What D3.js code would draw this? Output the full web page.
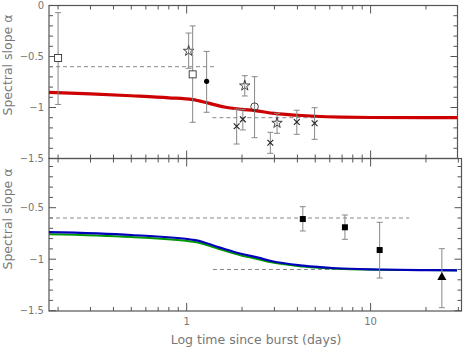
<!doctype html>
<html lang="en">
<head>
    <meta charset="utf-8">
    <title>spectral slope vs time</title>
    <script src="https://cdn.jsdelivr.net/npm/d3@7"></script>
    <style>
        body { margin: 0; background: #fff; }
        text { font-family: "DejaVu Sans", sans-serif; fill: #777; }
    </style>
</head>
<body>
    <svg></svg>
    <script>
        var width = 463;
        var height = 349;

        // top panel data
        var topT   = [0.2, 1.025, 1.078, 1.284, 1.87, 2.02, 2.07, 2.34, 2.85, 3.1, 3.97, 4.96];
        var topA   = [-0.515, -0.446, -0.675, -0.743, -1.184, -1.116, -0.786, -0.992, -1.345, -1.152, -1.142, -1.155];
        var topHi  = [-0.07, -0.27, -0.2, -0.45, -1.015, -1.018, -0.688, -0.698, -1.243, -1.057, -1.027, -1.002];
        var topLo  = [-0.97, -0.616, -1.145, -1.047, -1.358, -1.22, -0.887, -1.296, -1.449, -1.253, -1.263, -1.312];
        var topSym = ["square", "star", "square", "dot", "cross", "cross", "star", "circle", "cross", "star", "cross", "cross"];

        // bottom panel data
        var botT   = [4.28, 7.25, 11.2, 24.4];
        var botA   = [-0.61, -0.69, -0.911, -1.176];
        var botHi  = [-0.49, -0.571, -0.642, -0.898];
        var botLo  = [-0.726, -0.807, -1.183, -1.471];
        var botSym = ["fsquare", "fsquare", "fsquare", "triangle"];

        // model curves
        var redT = [0.1785, 0.3, 0.5, 0.8, 1.08, 1.3, 1.6, 2.0, 2.34, 3.0, 4.0, 5.0, 7.0, 10, 20, 29.5];
        var redA = [-0.851, -0.866, -0.885, -0.905, -0.923, -0.955, -0.995, -1.018, -1.03, -1.058, -1.076, -1.086, -1.094, -1.098, -1.1, -1.1];
        var blueT = [0.1785, 0.5, 1.11, 1.5, 2.0, 2.45, 2.84, 4.3, 6.5, 11, 20, 29.5];
        var blueA = [-0.738, -0.765, -0.814, -0.885, -0.95, -0.985, -1.015, -1.063, -1.088, -1.1, -1.106, -1.108];
        var greenA = [-0.757, -0.784, -0.833, -0.902, -0.966, -1.0, -1.028, -1.071, -1.093, -1.102, -1.106, -1.108];

        // dashed reference levels [t0, t1, alpha]
        var topDash = [[0.1785, 1.41, -0.6], [1.38, 5.1, -1.1]];
        var botDash = [[0.1785, 16.2, -0.6], [1.39, 10, -1.1]];

        var xTicks = [1, 10];
        var yTicks = [0, -0.5, -1, -1.5];

        var left = 49, rightTop = 457.5, rightBot = 461.5;
        var xScale = d3.scaleLog().domain([0.1785, 31.2]).range([left, rightBot]);
        var yTop = d3.scaleLinear().domain([-1.5, 0]).range([158.5, 5.5]);
        var yBot = d3.scaleLinear().domain([-1.5, 0]).range([310.7, 156.2]);

        var svg = d3.select('svg').attr('width', width).attr('height', height);

        var minorX = [];
        [0.1, 1, 10].forEach(function (d) {
            for (var k = 1; k < 10; k++) {
                var v = d * k;
                if (v >= 0.2 && v <= 30) minorX.push(v);
            }
        });
        var minorY = d3.range(0, 16).map(function (i) { return -i / 10; });

        function panel(y, top, bottom, right) {
            var g = svg.append('g');
            g.append('rect')
                .attr('x', left).attr('y', top)
                .attr('width', right - left).attr('height', bottom - top)
                .attr('fill', 'none').attr('stroke', '#555').attr('stroke-width', 1.2);
            var tk = g.append('g').attr('stroke', '#555').attr('stroke-width', 1);
            minorX.forEach(function (t) {
                var px = xScale(t);
                if (px >= right) return;
                var len = (t === 1 || t === 10) ? 8 : 4;
                tk.append('line').attr('x1', px).attr('x2', px).attr('y1', bottom).attr('y2', bottom - len);
                tk.append('line').attr('x1', px).attr('x2', px).attr('y1', top).attr('y2', top + len);
            });
            minorY.forEach(function (v) {
                var py = y(v);
                if (py < top - 0.5 || py > bottom + 0.5) return;
                var len = (Math.abs(v * 2 - Math.round(v * 2)) < 1e-6) ? 7 : 4;
                tk.append('line').attr('x1', left).attr('x2', left + len).attr('y1', py).attr('y2', py);
                tk.append('line').attr('x1', right).attr('x2', right - len).attr('y1', py).attr('y2', py);
            });
            g.selectAll('text.yl')
                .data(yTicks.filter(function (v) { return y(v) >= top - 1; }))
                .enter().append('text')
                .attr('x', left - 5)
                .attr('y', function (v) { return y(v) + 3.5; })
                .attr('text-anchor', 'end')
                .attr('font-size', '10px')
                .text(function (v) { return v === 0 ? '0' : d3.format('.1~f')(v).replace('-', '\u2212'); });
        }

        panel(yTop, 5.5, 158.5, rightTop);
        panel(yBot, 158.5, 311, rightBot);

        svg.selectAll('text.xl')
            .data(xTicks)
            .enter().append('text')
            .attr('x', function (t) { return xScale(t); })
            .attr('y', 325)
            .attr('text-anchor', 'middle')
            .attr('font-size', '10px')
            .text(function (t) { return t; });

        svg.append('text')
            .attr('transform', 'translate(12,65) rotate(-90)')
            .attr('text-anchor', 'middle').attr('font-size', '12.5px')
            .text('Spectral slope \u03b1');
        svg.append('text')
            .attr('transform', 'translate(12,219) rotate(-90)')
            .attr('text-anchor', 'middle').attr('font-size', '12.5px')
            .text('Spectral slope \u03b1');
        svg.append('text')
            .attr('x', 256).attr('y', 344)
            .attr('text-anchor', 'middle').attr('font-size', '12.5px')
            .text('Log time since burst (days)');

        function dashes(list, y) {
            svg.selectAll(null).data(list).enter().append('line')
                .attr('x1', function (d) { return xScale(d[0]); })
                .attr('x2', function (d) { return xScale(d[1]); })
                .attr('y1', function (d) { return y(d[2]); })
                .attr('y2', function (d) { return y(d[2]); })
                .attr('stroke', '#888').attr('stroke-width', 1)
                .attr('stroke-dasharray', '4,3');
        }
        dashes(topDash, yTop);
        dashes(botDash, yBot);

        function curve(ts, as, y, color, w) {
            var line = d3.line()
                .x(function (d, i) { return xScale(ts[i]); })
                .y(function (d) { return y(d); })
                .curve(d3.curveMonotoneX);
            svg.append('path').datum(as)
                .attr('d', line)
                .attr('fill', 'none').attr('stroke', color).attr('stroke-width', w);
        }
        curve(redT, redA, yTop, '#cc0000', 3.2);
        curve(blueT, greenA, yBot, '#009900', 2);
        curve(blueT, blueA, yBot, '#0000bb', 2.2);

        var star = d3.symbol().type(d3.symbolStar).size(34)();
        var tri = d3.symbol().type(d3.symbolTriangle).size(36)();
        var cross = d3.symbol().type(d3.symbolX).size(24)();

        function points(ts, as, hi, lo, sym, y) {
            var g = svg.append('g');
            ts.forEach(function (t, i) {
                var px = xScale(t);
                g.append('line').attr('x1', px).attr('x2', px)
                    .attr('y1', y(hi[i])).attr('y2', y(lo[i]))
                    .attr('stroke', '#888').attr('stroke-width', 1);
                [hi[i], lo[i]].forEach(function (v) {
                    g.append('line').attr('x1', px - 3).attr('x2', px + 3)
                        .attr('y1', y(v)).attr('y2', y(v))
                        .attr('stroke', '#888').attr('stroke-width', 1);
                });
                var py = y(as[i]);
                var s = sym[i];
                if (s === 'square') {
                    g.append('rect').attr('x', px - 3.5).attr('y', py - 3.5).attr('width', 7).attr('height', 7)
                        .attr('fill', '#fff').attr('stroke', '#333').attr('stroke-width', 0.9);
                } else if (s === 'fsquare') {
                    g.append('rect').attr('x', px - 3).attr('y', py - 3).attr('width', 6).attr('height', 6)
                        .attr('fill', '#000');
                } else if (s === 'dot') {
                    g.append('circle').attr('cx', px).attr('cy', py).attr('r', 2.6).attr('fill', '#000');
                } else if (s === 'circle') {
                    g.append('circle').attr('cx', px).attr('cy', py).attr('r', 3.8)
                        .attr('fill', 'none').attr('stroke', '#333').attr('stroke-width', 0.9);
                } else if (s === 'star') {
                    g.append('path').attr('d', star).attr('transform', 'translate(' + px + ',' + py + ')')
                        .attr('fill', 'none').attr('stroke', '#333').attr('stroke-width', 0.9);
                } else if (s === 'cross') {
                    g.append('path').attr('d', cross).attr('transform', 'translate(' + px + ',' + py + ')')
                        .attr('fill', 'none').attr('stroke', '#222').attr('stroke-width', 1.1);
                } else if (s === 'triangle') {
                    g.append('path').attr('d', tri).attr('transform', 'translate(' + px + ',' + py + ')')
                        .attr('fill', '#000');
                }
            });
        }
        points(topT, topA, topHi, topLo, topSym, yTop);
        points(botT, botA, botHi, botLo, botSym, yBot);
    </script>
</body>
</html>
